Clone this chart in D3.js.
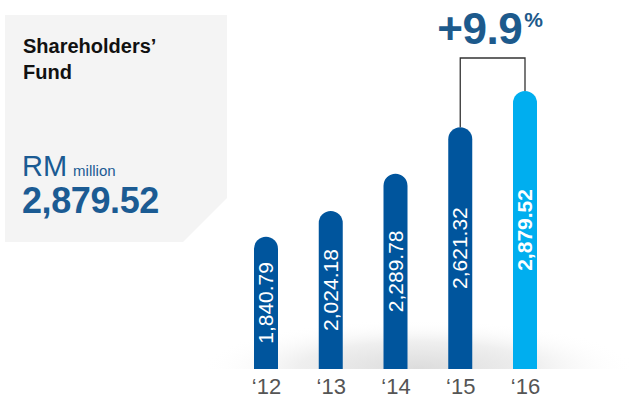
<!DOCTYPE html>
<html>
<head>
<meta charset="utf-8">
<script src="https://cdn.jsdelivr.net/npm/d3@7"></script>
<style>
  html, body { margin: 0; padding: 0; background: #fff; }
  svg { display: block; }
</style>
</head>
<body>
<div id="chart"></div>
<script>
const WIDTH = 636;
const HEIGHT = 399;
const BASE = 369;
const BAR_W = 24;

const years = ["‘12", "‘13", "‘14", "‘15", "‘16"];
const values = [1840.79, 2024.18, 2289.78, 2621.32, 2879.52];
const labels = ["1,840.79", "2,024.18", "2,289.78", "2,621.32", "2,879.52"];
const growth = "+9.9";

const DARK = "#00559d";
const LIGHT = "#00aeef";
const NAVY = "#1b5b93";

const svg = d3.select("#chart").append("svg")
  .attr("width", WIDTH)
  .attr("height", HEIGHT);

const defs = svg.append("defs");
const grad = defs.append("radialGradient")
  .attr("id", "floor")
  .attr("cx", 0.5).attr("cy", 1).attr("r", 0.5);
grad.append("stop").attr("offset", "0%").attr("stop-color", "#dcdcdc");
grad.append("stop").attr("offset", "55%").attr("stop-color", "#efefef");
grad.append("stop").attr("offset", "100%").attr("stop-color", "#ffffff").attr("stop-opacity", 0);

// soft floor shadow behind bars
svg.append("rect")
  .attr("x", 200).attr("y", 270)
  .attr("width", 436).attr("height", BASE - 270)
  .attr("fill", "url(#floor)");

// info panel with clipped corner
svg.append("path")
  .attr("d", "M5,15H227V198L183,242H5Z")
  .attr("fill", "#f4f4f4");

const panel = svg.append("g")
  .style("font-family", "'Liberation Sans', Arial, sans-serif");
panel.append("text").attr("x", 23).attr("y", 53)
  .attr("font-size", 20).attr("font-weight", "bold").attr("fill", "#111")
  .text("Shareholders’");
panel.append("text").attr("x", 23).attr("y", 79)
  .attr("font-size", 20).attr("font-weight", "bold").attr("fill", "#111")
  .text("Fund");
const rm = panel.append("text").attr("x", 22).attr("y", 176).attr("fill", NAVY);
rm.append("tspan").attr("font-size", 29).text("RM");
rm.append("tspan").attr("font-size", 15).attr("dx", 6).text("million");
panel.append("text").attr("x", 22).attr("y", 213)
  .attr("font-size", 36).attr("font-weight", "bold").attr("fill", NAVY)
  .attr("letter-spacing", -0.4)
  .text(labels[labels.length - 1]);

// scales
const x = d3.scalePoint().domain(years).range([266, 525]);
const y = d3.scaleLinear().domain([900, 2900]).range([BASE, 88]);

const barPath = (cx, top) => {
  const r = BAR_W / 2;
  const p = d3.path();
  p.moveTo(cx - r, BASE);
  p.lineTo(cx - r, top + r);
  p.arc(cx, top + r, r, Math.PI, 0);
  p.lineTo(cx + r, BASE);
  p.closePath();
  return p.toString();
};

const data = years.map((yr, i) => ({ yr, v: values[i], label: labels[i], last: i === years.length - 1 }));

const bars = svg.append("g");
bars.selectAll("path")
  .data(data)
  .join("path")
  .attr("d", d => barPath(x(d.yr), y(d.v)))
  .attr("fill", d => d.last ? LIGHT : DARK);

bars.selectAll("text")
  .data(data)
  .join("text")
  .attr("transform", d => `translate(${x(d.yr) + 7},${(y(d.v) + BASE) / 2}) rotate(-90)`)
  .attr("text-anchor", "middle")
  .attr("fill", "#fff")
  .attr("font-size", 21)
  .attr("font-weight", d => d.last ? "bold" : "normal")
  .style("font-family", "'Liberation Sans Narrow', 'Liberation Sans', Arial, sans-serif")
  .text(d => d.label);

// year axis
const axis = svg.append("g")
  .attr("transform", `translate(0,${BASE})`)
  .call(d3.axisBottom(x).tickSize(0).tickPadding(9));
axis.select(".domain").remove();
axis.selectAll("text")
  .attr("font-size", 22)
  .attr("fill", "#555")
  .style("font-family", "'Liberation Sans', Arial, sans-serif");

// growth bracket between last two bars
const a = data[3], b = data[4];
svg.append("path")
  .attr("d", `M${x(a.yr)},${y(a.v)}V58H${x(b.yr)}V${y(b.v)}`)
  .attr("fill", "none")
  .attr("stroke", "#333")
  .attr("stroke-width", 1.3);

const g = svg.append("text")
  .attr("x", x(a.yr) - 23)
  .attr("y", 44)
  .attr("fill", "#1d5a8c")
  .attr("font-weight", "bold")
  .style("font-family", "'Liberation Sans', Arial, sans-serif");
g.append("tspan").attr("font-size", 44).attr("letter-spacing", -0.5).text(growth);
g.append("tspan").attr("font-size", 21).attr("dx", 2).attr("dy", -17).text("%");
</script>
</body>
</html>
